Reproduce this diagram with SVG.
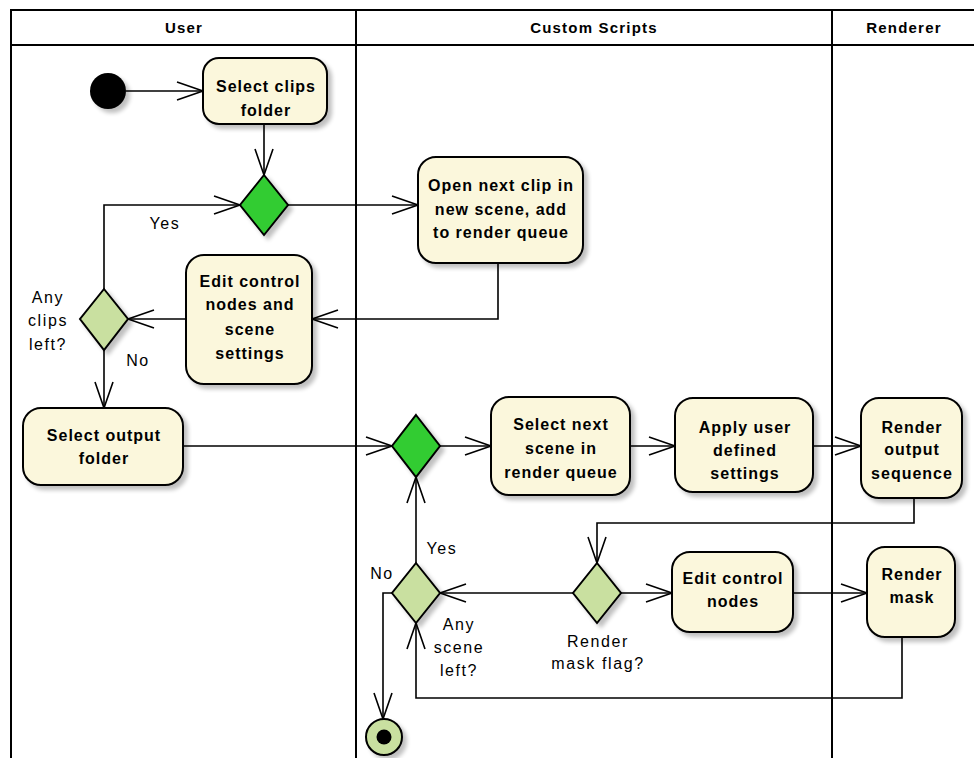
<svg xmlns="http://www.w3.org/2000/svg" width="974" height="758" viewBox="0 0 974 758">
  <defs>
    <marker id="open" markerUnits="userSpaceOnUse" markerWidth="30" markerHeight="24" refX="0" refY="0" viewBox="-28 -12 30 24" orient="auto" overflow="visible">
      <path d="M-26,-9 L0,0 L-26,9" fill="none" stroke="#000" stroke-width="1.6"/>
    </marker>
    <filter id="shadow" x="-20%" y="-20%" width="150%" height="150%">
      <feGaussianBlur in="SourceAlpha" stdDeviation="2"/>
      <feOffset dx="4" dy="4" result="b"/>
      <feComponentTransfer><feFuncA type="linear" slope="0.25"/></feComponentTransfer>
      <feMerge><feMergeNode/><feMergeNode in="SourceGraphic"/></feMerge>
    </filter>
  </defs>
  <style>
    .lane { fill: none; stroke: #000; stroke-width: 2; }
    .hdr { font-family: "Liberation Sans", Arial, sans-serif; font-weight: bold; font-size: 15px; letter-spacing: 1.2px; text-anchor: middle; }
    .act { fill: #FBF7DC; stroke: #000; stroke-width: 2; filter: url(#shadow); }
    .act-t { font-family: "Liberation Sans", Arial, sans-serif; font-weight: bold; font-size: 16px; letter-spacing: 1px; text-anchor: middle; fill: #000; }
    .fork { fill: #33CC33; stroke: #000; stroke-width: 2; filter: url(#shadow); }
    .dec { fill: #C9E0A0; stroke: #000; stroke-width: 2; filter: url(#shadow); }
    .lbl { font-family: "Liberation Sans", Arial, sans-serif; font-size: 16px; letter-spacing: 1.6px; text-anchor: middle; fill: #000; }
    .edge { fill: none; stroke: #000; stroke-width: 1.6; marker-end: url(#open); }
  </style>

  <!-- swimlanes -->
  <g id="lanes">
    <path class="lane" d="M11,758 V10 H974 M11,45 H974 M356,10 V758 M832,10 V758"/>
    <text class="hdr" x="184" y="33">User</text>
    <text class="hdr" x="594" y="33">Custom Scripts</text>
    <text class="hdr" x="904" y="33">Renderer</text>
  </g>

  <!-- connectors -->
  <g id="connectors">
    <path class="edge" d="M126,91 H203"/>
    <path class="edge" d="M264,124 V175"/>
    <path class="edge" d="M288,205 H418"/>
    <path class="edge" d="M498,263 V319 H312"/>
    <path class="edge" d="M186,319 H128"/>
    <path class="edge" d="M104,289 V205 H240"/>
    <path class="edge" d="M104,350 V408"/>
    <path class="edge" d="M183,446 H392"/>
    <path class="edge" d="M440,446 H491"/>
    <path class="edge" d="M630,446 H675"/>
    <path class="edge" d="M813,446 H861"/>
    <path class="edge" d="M914,498 V523 H597 V563"/>
    <path class="edge" d="M573,593 H440"/>
    <path class="edge" d="M621,593 H672"/>
    <path class="edge" d="M793,593 H867"/>
    <path class="edge" d="M902,637 V698 H416 V623"/>
    <path class="edge" d="M416,563 V477"/>
    <path class="edge" d="M392,593 H383 V719"/>
    <text class="lbl" x="165" y="229">Yes</text>
    <text class="lbl" x="138" y="366">No</text>
    <text class="lbl" x="442" y="554">Yes</text>
    <text class="lbl" x="382" y="579">No</text>
  </g>

  <!-- nodes -->
  <g id="start">
    <circle cx="108" cy="91" r="18" fill="#000" filter="url(#shadow)"/>
  </g>

  <g id="select-clips">
    <rect class="act" x="203" y="58" width="124" height="66" rx="16"/>
    <text class="act-t" x="266" y="92">Select clips</text>
    <text class="act-t" x="266" y="116">folder</text>
  </g>

  <g id="merge-clips">
    <polygon class="fork" points="264,175 288,205 264,235 240,205"/>
  </g>

  <g id="open-clip">
    <rect class="act" x="418" y="157" width="165" height="106" rx="18"/>
    <text class="act-t" x="501" y="191">Open next clip in</text>
    <text class="act-t" x="501" y="215">new scene, add</text>
    <text class="act-t" x="501" y="238">to render queue</text>
  </g>

  <g id="edit-scene">
    <rect class="act" x="186" y="255" width="126" height="129" rx="18"/>
    <text class="act-t" x="250" y="287">Edit control</text>
    <text class="act-t" x="250" y="310">nodes and</text>
    <text class="act-t" x="250" y="335">scene</text>
    <text class="act-t" x="250" y="359">settings</text>
  </g>

  <g id="clips-left">
    <polygon class="dec" points="104,289 128,319 104,350 80,319"/>
    <text class="lbl" x="48" y="303">Any</text>
    <text class="lbl" x="48" y="326">clips</text>
    <text class="lbl" x="48" y="350">left?</text>
  </g>

  <g id="select-output">
    <rect class="act" x="23" y="408" width="160" height="77" rx="18"/>
    <text class="act-t" x="104" y="441">Select output</text>
    <text class="act-t" x="104" y="464">folder</text>
  </g>

  <g id="merge-scenes">
    <polygon class="fork" points="416,415 440,446 416,477 392,446"/>
  </g>

  <g id="select-scene">
    <rect class="act" x="491" y="397" width="139" height="98" rx="18"/>
    <text class="act-t" x="561" y="430">Select next</text>
    <text class="act-t" x="561" y="454">scene in</text>
    <text class="act-t" x="561" y="478">render queue</text>
  </g>

  <g id="apply-settings">
    <rect class="act" x="675" y="398" width="138" height="94" rx="18"/>
    <text class="act-t" x="745" y="433">Apply user</text>
    <text class="act-t" x="745" y="456">defined</text>
    <text class="act-t" x="745" y="479">settings</text>
  </g>

  <g id="render-output">
    <rect class="act" x="861" y="398" width="101" height="100" rx="18"/>
    <text class="act-t" x="912" y="433">Render</text>
    <text class="act-t" x="912" y="455">output</text>
    <text class="act-t" x="912" y="479">sequence</text>
  </g>

  <g id="mask-flag">
    <polygon class="dec" points="597,563 621,593 597,623 573,593"/>
    <text class="lbl" x="598" y="647">Render</text>
    <text class="lbl" x="598" y="669">mask flag?</text>
  </g>

  <g id="scene-left">
    <polygon class="dec" points="416,563 440,593 416,623 392,593"/>
    <text class="lbl" x="459" y="630">Any</text>
    <text class="lbl" x="459" y="653">scene</text>
    <text class="lbl" x="459" y="676">left?</text>
  </g>

  <g id="edit-nodes">
    <rect class="act" x="672" y="552" width="121" height="80" rx="18"/>
    <text class="act-t" x="733" y="584">Edit control</text>
    <text class="act-t" x="733" y="607">nodes</text>
  </g>

  <g id="render-mask">
    <rect class="act" x="867" y="547" width="88" height="90" rx="18"/>
    <text class="act-t" x="912" y="580">Render</text>
    <text class="act-t" x="912" y="603">mask</text>
  </g>

  <g id="end">
    <circle cx="384" cy="737" r="18" fill="#C9E0A0" stroke="#000" stroke-width="2" filter="url(#shadow)"/>
    <circle cx="384" cy="737" r="7.5" fill="#000"/>
  </g>
</svg>
